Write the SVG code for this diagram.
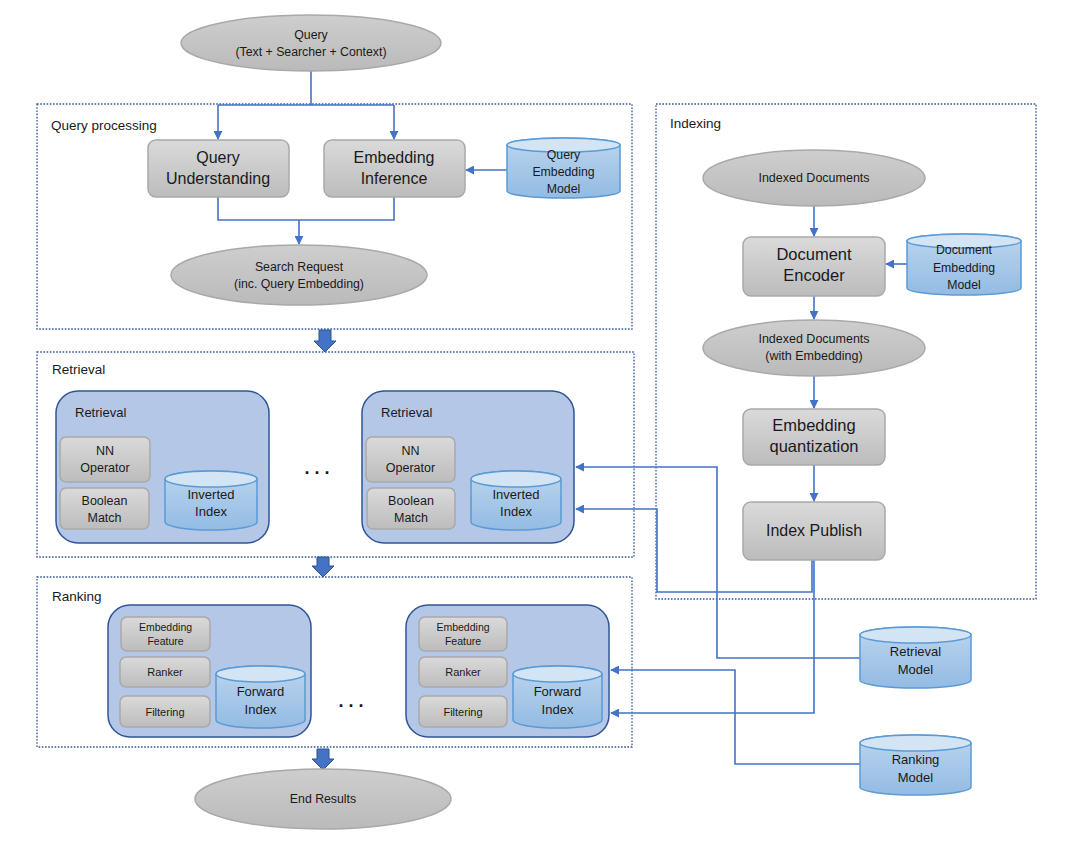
<svg xmlns="http://www.w3.org/2000/svg" width="1080" height="842" viewBox="0 0 1080 842">
<defs>
<linearGradient id="gbox" x1="0" y1="0" x2="0" y2="1"><stop offset="0" stop-color="#dadada"/><stop offset="1" stop-color="#bcbcbc"/></linearGradient>
<linearGradient id="gell" x1="0" y1="0" x2="0" y2="1"><stop offset="0" stop-color="#cecece"/><stop offset="1" stop-color="#bababa"/></linearGradient>
<linearGradient id="gcyl" x1="0" y1="0" x2="0" y2="1"><stop offset="0" stop-color="#bcd5ee"/><stop offset="1" stop-color="#93bbe3"/></linearGradient>
<marker id="ah" viewBox="0 0 10 10" refX="9" refY="5" markerWidth="9" markerHeight="9" markerUnits="userSpaceOnUse" orient="auto"><path d="M0,0 L10,5 L0,10 Z" fill="#4472c4"/></marker>
<style>
text{font-family:"Liberation Sans",Arial,sans-serif;fill:#1a1a1a;text-anchor:middle}
.lbl{text-anchor:start;font-size:13.5px}
.dots{text-anchor:start;font-size:18px;font-weight:bold;letter-spacing:5px}
.box{fill:url(#gbox);stroke:#a9a9a9;stroke-width:1.5}
.ell{fill:url(#gell);stroke:#a9a9a9;stroke-width:1.5}
.cyl{fill:url(#gcyl);stroke:#5b9bd5;stroke-width:1.5}
.cyltop{fill:#d3e4f5;stroke:#5b9bd5;stroke-width:1.5}
.grp{fill:none;stroke:#2f5597;stroke-width:1.3;stroke-dasharray:1.6 1.6}
.inner{fill:#b4c7e7;stroke:#2f5597;stroke-width:1.5}
.con{fill:none;stroke:#4472c4;stroke-width:1.6}
.blk{fill:#4472c4;stroke:#2f528f;stroke-width:1}
</style>
</defs>
<rect width="1080" height="842" fill="#ffffff"/>

<!-- group containers -->
<g id="grp-query-processing"><rect class="grp" x="37" y="104" width="595" height="225"/><text class="lbl" x="51" y="130">Query processing</text></g>
<g id="grp-retrieval"><rect class="grp" x="37" y="352" width="597" height="205"/><text class="lbl" x="52" y="374">Retrieval</text></g>
<g id="grp-ranking"><rect class="grp" x="37" y="577" width="595" height="170"/><text class="lbl" x="52" y="601">Ranking</text></g>
<g id="grp-indexing"><rect class="grp" x="656" y="104" width="380" height="495"/><text class="lbl" x="670" y="128">Indexing</text></g>

<!-- connectors -->
<g id="connectors">
<path class="con" d="M311,71 V105"/>
<path class="con" d="M218,105 H394"/>
<path class="con" d="M218,105 V139" marker-end="url(#ah)"/>
<path class="con" d="M394,105 V139" marker-end="url(#ah)"/>
<path class="con" d="M507,170 H466" marker-end="url(#ah)"/>
<path class="con" d="M218,197 V220 H394 V197"/>
<path class="con" d="M299,220 V244" marker-end="url(#ah)"/>
<path class="con" d="M814,206 V236" marker-end="url(#ah)"/>
<path class="con" d="M907,264 H886" marker-end="url(#ah)"/>
<path class="con" d="M814,296 V319" marker-end="url(#ah)"/>
<path class="con" d="M814,376 V408" marker-end="url(#ah)"/>
<path class="con" d="M814,465 V501" marker-end="url(#ah)"/>
<path class="con" d="M812,560 V592 H657 V509 H576" marker-end="url(#ah)"/>
<path class="con" d="M814,560 V713 H611" marker-end="url(#ah)"/>
<path class="con" d="M860,658 H717 V467 H576" marker-end="url(#ah)"/>
<path class="con" d="M860,764 H735 V670 H611" marker-end="url(#ah)"/>
<path class="blk" d="M319,330 H331 V341 H336 L325,352 L314,341 H319 Z"/>
<path class="blk" d="M317,557 H329 V566 H334 L323,577 L312,566 H317 Z"/>
<path class="blk" d="M317,749 H329 V759 H334 L323,770 L312,759 H317 Z"/>
</g>

<!-- query processing nodes -->
<g id="node-query"><ellipse class="ell" cx="311" cy="43" rx="130" ry="28"/><text x="311" y="39" font-size="12.3">Query</text><text x="311" y="56" font-size="12.3">(Text + Searcher + Context)</text></g>
<g id="node-query-understanding"><rect class="box" x="148" y="140" width="141" height="57" rx="8"/><text x="218" y="163" font-size="16">Query</text><text x="218" y="184" font-size="16">Understanding</text></g>
<g id="node-embedding-inference"><rect class="box" x="324" y="140" width="141" height="57" rx="8"/><text x="394" y="163" font-size="16">Embedding</text><text x="394" y="184" font-size="16">Inference</text></g>
<g id="node-query-embedding-model"><path class="cyl" d="M507,145 V191 A56.5,7 0 0 0 620,191 V145 A56.5,7 0 0 0 507,145 Z"/><ellipse class="cyltop" cx="563.5" cy="145" rx="56.5" ry="7"/><text x="563.5" y="159" font-size="12.3">Query</text><text x="563.5" y="176" font-size="12.3">Embedding</text><text x="563.5" y="193" font-size="12.3">Model</text></g>
<g id="node-search-request"><ellipse class="ell" cx="299" cy="275" rx="128" ry="30"/><text x="299" y="271" font-size="12.3">Search Request</text><text x="299" y="288" font-size="12.3">(inc. Query Embedding)</text></g>

<!-- retrieval -->
<g id="node-retrieval-1"><rect class="inner" x="56" y="391" width="213" height="152" rx="22"/><text x="75" y="417" font-size="13" style="text-anchor:start">Retrieval</text>
<rect class="box" x="60" y="437" width="90" height="45" rx="6"/><text x="105" y="455" font-size="12.5">NN</text><text x="105" y="472" font-size="12.5">Operator</text>
<rect class="box" x="60" y="488" width="89" height="41" rx="6"/><text x="104.5" y="505" font-size="12.5">Boolean</text><text x="104.5" y="522" font-size="12.5">Match</text>
<path class="cyl" d="M165,479 V522 A46,8 0 0 0 257,522 V479 A46,8 0 0 0 165,479 Z"/><ellipse class="cyltop" cx="211" cy="479" rx="46" ry="8"/><text x="211" y="499" font-size="13">Inverted</text><text x="211" y="516" font-size="13">Index</text></g>
<text class="dots" x="304.5" y="474">...</text>
<g id="node-retrieval-2"><rect class="inner" x="362" y="391" width="212" height="152" rx="22"/><text x="381" y="417" font-size="13" style="text-anchor:start">Retrieval</text>
<rect class="box" x="366" y="437" width="89" height="45" rx="6"/><text x="410.5" y="455" font-size="12.5">NN</text><text x="410.5" y="472" font-size="12.5">Operator</text>
<rect class="box" x="367" y="488" width="88" height="41" rx="6"/><text x="411" y="505" font-size="12.5">Boolean</text><text x="411" y="522" font-size="12.5">Match</text>
<path class="cyl" d="M471,479 V522 A45,8 0 0 0 561,522 V479 A45,8 0 0 0 471,479 Z"/><ellipse class="cyltop" cx="516" cy="479" rx="45" ry="8"/><text x="516" y="499" font-size="13">Inverted</text><text x="516" y="516" font-size="13">Index</text></g>

<!-- ranking -->
<g id="node-ranking-1"><rect class="inner" x="108" y="605" width="203" height="132" rx="22"/>
<rect class="box" x="121" y="617" width="89" height="34" rx="6"/><text x="165.5" y="631" font-size="10.5">Embedding</text><text x="165.5" y="645" font-size="10.5">Feature</text>
<rect class="box" x="120" y="657" width="90" height="30" rx="6"/><text x="165" y="676" font-size="11">Ranker</text>
<rect class="box" x="120" y="696" width="90" height="31" rx="6"/><text x="165" y="716" font-size="11">Filtering</text>
<path class="cyl" d="M216,674 V720 A44.5,8 0 0 0 305,720 V674 A44.5,8 0 0 0 216,674 Z"/><ellipse class="cyltop" cx="260.5" cy="674" rx="44.5" ry="8"/><text x="260.5" y="696" font-size="13">Forward</text><text x="260.5" y="714" font-size="13">Index</text></g>
<text class="dots" x="338.5" y="707">...</text>
<g id="node-ranking-2"><rect class="inner" x="406" y="605" width="203" height="132" rx="22"/>
<rect class="box" x="419" y="617" width="88" height="34" rx="6"/><text x="463" y="631" font-size="10.5">Embedding</text><text x="463" y="645" font-size="10.5">Feature</text>
<rect class="box" x="419" y="657" width="88" height="30" rx="6"/><text x="463" y="676" font-size="11">Ranker</text>
<rect class="box" x="419" y="696" width="88" height="31" rx="6"/><text x="463" y="716" font-size="11">Filtering</text>
<path class="cyl" d="M513,674 V720 A44.5,8 0 0 0 602,720 V674 A44.5,8 0 0 0 513,674 Z"/><ellipse class="cyltop" cx="557.5" cy="674" rx="44.5" ry="8"/><text x="557.5" y="696" font-size="13">Forward</text><text x="557.5" y="714" font-size="13">Index</text></g>

<g id="node-end-results"><ellipse class="ell" cx="323" cy="799" rx="128" ry="30"/><text x="323" y="803" font-size="12.3">End Results</text></g>

<!-- indexing -->
<g id="node-indexed-documents"><ellipse class="ell" cx="814" cy="178" rx="111" ry="28"/><text x="814" y="182" font-size="12.5">Indexed Documents</text></g>
<g id="node-document-encoder"><rect class="box" x="743" y="237" width="142" height="59" rx="8"/><text x="814" y="260" font-size="16.5">Document</text><text x="814" y="281" font-size="16.5">Encoder</text></g>
<g id="node-document-embedding-model"><path class="cyl" d="M907,241 V288 A57,7 0 0 0 1021,288 V241 A57,7 0 0 0 907,241 Z"/><ellipse class="cyltop" cx="964" cy="241" rx="57" ry="7"/><text x="964" y="254" font-size="12.3">Document</text><text x="964" y="272" font-size="12.3">Embedding</text><text x="964" y="289" font-size="12.3">Model</text></g>
<g id="node-indexed-documents-emb"><ellipse class="ell" cx="814" cy="348" rx="111" ry="28"/><text x="814" y="343" font-size="12.5">Indexed Documents</text><text x="814" y="360" font-size="12.5">(with Embedding)</text></g>
<g id="node-embedding-quantization"><rect class="box" x="743" y="409" width="142" height="56" rx="8"/><text x="814" y="431" font-size="16.5">Embedding</text><text x="814" y="452" font-size="16.5">quantization</text></g>
<g id="node-index-publish"><rect class="box" x="743" y="502" width="142" height="58" rx="8"/><text x="814" y="536" font-size="16">Index Publish</text></g>

<g id="node-retrieval-model"><path class="cyl" d="M860,635 V680 A55.5,8 0 0 0 971,680 V635 A55.5,8 0 0 0 860,635 Z"/><ellipse class="cyltop" cx="915.5" cy="635" rx="55.5" ry="8"/><text x="915.5" y="656" font-size="13">Retrieval</text><text x="915.5" y="674" font-size="13">Model</text></g>
<g id="node-ranking-model"><path class="cyl" d="M860,743 V787 A55.5,8 0 0 0 971,787 V743 A55.5,8 0 0 0 860,743 Z"/><ellipse class="cyltop" cx="915.5" cy="743" rx="55.5" ry="8"/><text x="915.5" y="764" font-size="13">Ranking</text><text x="915.5" y="782" font-size="13">Model</text></g>
</svg>
